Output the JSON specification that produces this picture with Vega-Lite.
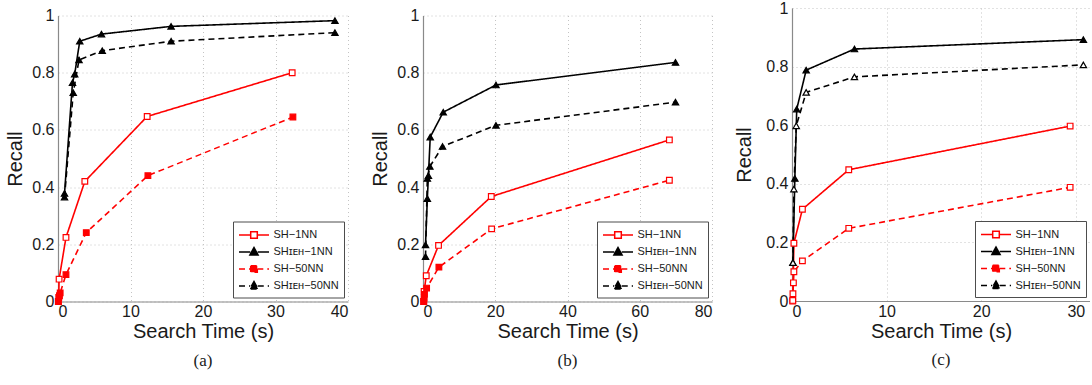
{
  "$schema": "https://vega.github.io/schema/vega-lite/v6.json",
  "padding": {"left": 5, "top": 0, "right": 0, "bottom": 0},
  "spacing": 22,
  "center": true,
  "datasets": {
    "a": [
      {"t": 0.05, "r": 0.0, "s": "SH−1NN"},
      {"t": 0.1, "r": 0.014, "s": "SH−1NN"},
      {"t": 0.15, "r": 0.078, "s": "SH−1NN"},
      {"t": 1.1, "r": 0.224, "s": "SH−1NN"},
      {"t": 3.7, "r": 0.42, "s": "SH−1NN"},
      {"t": 12.3, "r": 0.647, "s": "SH−1NN"},
      {"t": 32.3, "r": 0.8, "s": "SH−1NN"},
      {"t": 0.9, "r": 0.378, "s": "SHɪᴇʜ−1NN"},
      {"t": 2.0, "r": 0.765, "s": "SHɪᴇʜ−1NN"},
      {"t": 2.3, "r": 0.795, "s": "SHɪᴇʜ−1NN"},
      {"t": 3.0, "r": 0.91, "s": "SHɪᴇʜ−1NN"},
      {"t": 6.0, "r": 0.935, "s": "SHɪᴇʜ−1NN"},
      {"t": 15.6, "r": 0.962, "s": "SHɪᴇʜ−1NN"},
      {"t": 38.2, "r": 0.982, "s": "SHɪᴇʜ−1NN"},
      {"t": 0.05, "r": 0.0, "s": "SH−50NN"},
      {"t": 0.2, "r": 0.02, "s": "SH−50NN"},
      {"t": 0.3, "r": 0.03, "s": "SH−50NN"},
      {"t": 1.1, "r": 0.094, "s": "SH−50NN"},
      {"t": 3.9, "r": 0.241, "s": "SH−50NN"},
      {"t": 12.4, "r": 0.44, "s": "SH−50NN"},
      {"t": 32.4, "r": 0.645, "s": "SH−50NN"},
      {"t": 0.9, "r": 0.365, "s": "SHɪᴇʜ−50NN"},
      {"t": 2.1, "r": 0.73, "s": "SHɪᴇʜ−50NN"},
      {"t": 2.9, "r": 0.845, "s": "SHɪᴇʜ−50NN"},
      {"t": 6.1, "r": 0.877, "s": "SHɪᴇʜ−50NN"},
      {"t": 15.6, "r": 0.91, "s": "SHɪᴇʜ−50NN"},
      {"t": 38.2, "r": 0.94, "s": "SHɪᴇʜ−50NN"}
    ],
    "b": [
      {"t": 0.2, "r": 0.0, "s": "SH−1NN"},
      {"t": 0.3, "r": 0.035, "s": "SH−1NN"},
      {"t": 0.9, "r": 0.09, "s": "SH−1NN"},
      {"t": 4.3, "r": 0.196, "s": "SH−1NN"},
      {"t": 18.9, "r": 0.367, "s": "SH−1NN"},
      {"t": 68.2, "r": 0.565, "s": "SH−1NN"},
      {"t": 0.7, "r": 0.198, "s": "SHɪᴇʜ−1NN"},
      {"t": 1.2, "r": 0.36, "s": "SHɪᴇʜ−1NN"},
      {"t": 1.5, "r": 0.44, "s": "SHɪᴇʜ−1NN"},
      {"t": 2.0, "r": 0.575, "s": "SHɪᴇʜ−1NN"},
      {"t": 5.6, "r": 0.662, "s": "SHɪᴇʜ−1NN"},
      {"t": 20.2, "r": 0.757, "s": "SHɪᴇʜ−1NN"},
      {"t": 69.9, "r": 0.836, "s": "SHɪᴇʜ−1NN"},
      {"t": 0.2, "r": 0.0, "s": "SH−50NN"},
      {"t": 0.3, "r": 0.012, "s": "SH−50NN"},
      {"t": 0.4, "r": 0.025, "s": "SH−50NN"},
      {"t": 1.0, "r": 0.047, "s": "SH−50NN"},
      {"t": 4.4, "r": 0.12, "s": "SH−50NN"},
      {"t": 19.0, "r": 0.254, "s": "SH−50NN"},
      {"t": 68.2, "r": 0.424, "s": "SH−50NN"},
      {"t": 0.7, "r": 0.157, "s": "SHɪᴇʜ−50NN"},
      {"t": 1.2, "r": 0.43, "s": "SHɪᴇʜ−50NN"},
      {"t": 1.9, "r": 0.472, "s": "SHɪᴇʜ−50NN"},
      {"t": 5.4, "r": 0.542, "s": "SHɪᴇʜ−50NN"},
      {"t": 20.2, "r": 0.616, "s": "SHɪᴇʜ−50NN"},
      {"t": 69.9, "r": 0.697, "s": "SHɪᴇʜ−50NN"}
    ],
    "c": [
      {"t": 0.08, "r": 0.0, "s": "SH−1NN"},
      {"t": 0.1, "r": 0.025, "s": "SH−1NN"},
      {"t": 0.2, "r": 0.197, "s": "SH−1NN"},
      {"t": 1.1, "r": 0.313, "s": "SH−1NN"},
      {"t": 6.0, "r": 0.448, "s": "SH−1NN"},
      {"t": 29.4, "r": 0.597, "s": "SH−1NN"},
      {"t": 0.1, "r": 0.131, "s": "SHɪᴇʜ−1NN"},
      {"t": 0.3, "r": 0.418, "s": "SHɪᴇʜ−1NN"},
      {"t": 0.5, "r": 0.655, "s": "SHɪᴇʜ−1NN"},
      {"t": 1.5, "r": 0.788, "s": "SHɪᴇʜ−1NN"},
      {"t": 6.6, "r": 0.86, "s": "SHɪᴇʜ−1NN"},
      {"t": 30.8, "r": 0.892, "s": "SHɪᴇʜ−1NN"},
      {"t": 0.08, "r": 0.002, "s": "SH−50NN"},
      {"t": 0.15, "r": 0.062, "s": "SH−50NN"},
      {"t": 0.2, "r": 0.1, "s": "SH−50NN"},
      {"t": 1.1, "r": 0.137, "s": "SH−50NN"},
      {"t": 6.0, "r": 0.248, "s": "SH−50NN"},
      {"t": 29.4, "r": 0.388, "s": "SH−50NN"},
      {"t": 0.1, "r": 0.131, "s": "SHɪᴇʜ−50NN"},
      {"t": 0.2, "r": 0.382, "s": "SHɪᴇʜ−50NN"},
      {"t": 0.45, "r": 0.598, "s": "SHɪᴇʜ−50NN"},
      {"t": 1.5, "r": 0.712, "s": "SHɪᴇʜ−50NN"},
      {"t": 6.6, "r": 0.765, "s": "SHɪᴇʜ−50NN"},
      {"t": 30.8, "r": 0.806, "s": "SHɪᴇʜ−50NN"}
    ]
  },
  "resolve": {
    "scale": {"color": "independent", "strokeDash": "independent"},
    "legend": {"color": "independent", "strokeDash": "independent"}
  },
  "hconcat": [
    {
      "width": 290, "height": 286,
      "title": {"text": "(a)"},
      "data": {"name": "a"},
      "layer": [
        {
          "mark": {"type": "line", "strokeWidth": 1.6},
          "encoding": {
            "x": {"field": "t", "type": "quantitative", "scale": {"domain": [0, 40], "nice": false}, "axis": {"values": [0, 10, 20, 30, 40], "title": "Search Time (s)"}},
            "y": {"field": "r", "type": "quantitative", "scale": {"domain": [0, 1], "nice": false}, "axis": {"values": [0, 0.2, 0.4, 0.6, 0.8, 1], "format": ".1~f", "title": "Recall"}},
            "color": {"field": "s", "type": "nominal", "scale": {"domain": ["SH−1NN", "SHɪᴇʜ−1NN", "SH−50NN", "SHɪᴇʜ−50NN"], "range": ["#ff0000", "#000000", "#ff0000", "#000000"]},
              "legend": {"orient": "bottom-right", "offset": 4, "title": null, "symbolSize": 225, "symbolOffset": 7.5, "labelFontSize": 11, "padding": 5, "rowPadding": 2, "labelOffset": 11, "fillColor": "white", "strokeColor": "#4d4d4d",
                "encode": {"symbols": {"update": {
                  "shape": {"signal": "indexof(datum.value,'ɪᴇʜ')>=0 ? 'M-2,0L-0.5,0M0.5,0L2,0M0,-0.6L0.55,0.4L-0.55,0.4Z' : 'M-2,0L-0.44,0M0.44,0L2,0M-0.44,-0.44L0.44,-0.44L0.44,0.44L-0.44,0.44Z'"},
                  "fill": {"signal": "datum.value=='SH−1NN' ? 'white' : (indexof(datum.value,'ɪᴇʜ')>=0 ? 'black' : 'red')"},
                  "stroke": {"signal": "indexof(datum.value,'ɪᴇʜ')>=0 ? 'black' : 'red'"},
                  "strokeDash": {"signal": "indexof(datum.value,'50')>=0 ? [5,3] : [1,0]"},
                  "size": {"value": 225}, "strokeWidth": {"value": 1.5}, "opacity": {"value": 1}, "fillOpacity": {"value": 1}}}}}},
            "strokeDash": {"field": "s", "type": "nominal", "scale": {"domain": ["SH−1NN", "SHɪᴇʜ−1NN", "SH−50NN", "SHɪᴇʜ−50NN"], "range": [[1, 0], [1, 0], [6, 4], [6, 4]]}, "legend": null}
          }
        },
        {
          "transform": [{"filter": "indexof(datum.s,'ɪᴇʜ')<0"}],
          "mark": {"type": "point", "shape": "square", "filled": false, "size": 32, "strokeWidth": 1.2, "opacity": 1},
          "encoding": {
            "x": {"field": "t", "type": "quantitative"},
            "y": {"field": "r", "type": "quantitative"},
            "color": {"field": "s", "type": "nominal", "legend": null},
            "fill": {"condition": {"test": "datum.s=='SH−50NN'", "value": "#ff0000"}, "value": "#ffffff"}
          }
        },
        {
          "transform": [{"filter": "indexof(datum.s,'ɪᴇʜ')>=0"}],
          "mark": {"type": "point", "shape": "triangle-up", "filled": false, "size": 40, "strokeWidth": 1.2, "opacity": 1},
          "encoding": {
            "x": {"field": "t", "type": "quantitative"},
            "y": {"field": "r", "type": "quantitative"},
            "color": {"field": "s", "type": "nominal", "legend": null},
            "fill": {"value": "#000000"}
          }
        }
      ]
    },
    {
      "width": 289, "height": 286,
      "title": {"text": "(b)"},
      "data": {"name": "b"},
      "layer": [
        {
          "mark": {"type": "line", "strokeWidth": 1.6},
          "encoding": {
            "x": {"field": "t", "type": "quantitative", "scale": {"domain": [0, 80], "nice": false}, "axis": {"values": [0, 20, 40, 60, 80], "title": "Search Time (s)"}},
            "y": {"field": "r", "type": "quantitative", "scale": {"domain": [0, 1], "nice": false}, "axis": {"values": [0, 0.2, 0.4, 0.6, 0.8, 1], "format": ".1~f", "title": "Recall"}},
            "color": {"field": "s", "type": "nominal", "scale": {"domain": ["SH−1NN", "SHɪᴇʜ−1NN", "SH−50NN", "SHɪᴇʜ−50NN"], "range": ["#ff0000", "#000000", "#ff0000", "#000000"]},
              "legend": {"orient": "bottom-right", "offset": 4, "title": null, "symbolSize": 225, "symbolOffset": 7.5, "labelFontSize": 11, "padding": 5, "rowPadding": 2, "labelOffset": 11, "fillColor": "white", "strokeColor": "#4d4d4d",
                "encode": {"symbols": {"update": {
                  "shape": {"signal": "indexof(datum.value,'ɪᴇʜ')>=0 ? 'M-2,0L-0.5,0M0.5,0L2,0M0,-0.6L0.55,0.4L-0.55,0.4Z' : 'M-2,0L-0.44,0M0.44,0L2,0M-0.44,-0.44L0.44,-0.44L0.44,0.44L-0.44,0.44Z'"},
                  "fill": {"signal": "datum.value=='SH−1NN' ? 'white' : (indexof(datum.value,'ɪᴇʜ')>=0 ? 'black' : 'red')"},
                  "stroke": {"signal": "indexof(datum.value,'ɪᴇʜ')>=0 ? 'black' : 'red'"},
                  "strokeDash": {"signal": "indexof(datum.value,'50')>=0 ? [5,3] : [1,0]"},
                  "size": {"value": 225}, "strokeWidth": {"value": 1.5}, "opacity": {"value": 1}, "fillOpacity": {"value": 1}}}}}},
            "strokeDash": {"field": "s", "type": "nominal", "scale": {"domain": ["SH−1NN", "SHɪᴇʜ−1NN", "SH−50NN", "SHɪᴇʜ−50NN"], "range": [[1, 0], [1, 0], [6, 4], [6, 4]]}, "legend": null}
          }
        },
        {
          "transform": [{"filter": "indexof(datum.s,'ɪᴇʜ')<0"}],
          "mark": {"type": "point", "shape": "square", "filled": false, "size": 32, "strokeWidth": 1.2, "opacity": 1},
          "encoding": {
            "x": {"field": "t", "type": "quantitative"},
            "y": {"field": "r", "type": "quantitative"},
            "color": {"field": "s", "type": "nominal", "legend": null},
            "fill": {"condition": {"test": "datum.s=='SH−50NN' && datum.t<10", "value": "#ff0000"}, "value": "#ffffff"}
          }
        },
        {
          "transform": [{"filter": "indexof(datum.s,'ɪᴇʜ')>=0"}],
          "mark": {"type": "point", "shape": "triangle-up", "filled": false, "size": 40, "strokeWidth": 1.2, "opacity": 1},
          "encoding": {
            "x": {"field": "t", "type": "quantitative"},
            "y": {"field": "r", "type": "quantitative"},
            "color": {"field": "s", "type": "nominal", "legend": null},
            "fill": {"value": "#000000"}
          }
        }
      ]
    },
    {
      "width": 298, "height": 293,
      "title": {"text": "(c)", "subtitle": " ", "subtitleFontSize": 6, "subtitlePadding": 1},
      "data": {"name": "c"},
      "layer": [
        {
          "mark": {"type": "line", "strokeWidth": 1.6},
          "encoding": {
            "x": {"field": "t", "type": "quantitative", "scale": {"domain": [0, 31.5], "nice": false}, "axis": {"values": [0, 10, 20, 30], "title": "Search Time (s)"}},
            "y": {"field": "r", "type": "quantitative", "scale": {"domain": [0, 1], "nice": false}, "axis": {"values": [0, 0.2, 0.4, 0.6, 0.8, 1], "format": ".1~f", "title": "Recall", "titlePadding": 11}},
            "color": {"field": "s", "type": "nominal", "scale": {"domain": ["SH−1NN", "SHɪᴇʜ−1NN", "SH−50NN", "SHɪᴇʜ−50NN"], "range": ["#ff0000", "#000000", "#ff0000", "#000000"]},
              "legend": {"orient": "bottom-right", "offset": 4, "title": null, "symbolSize": 225, "symbolOffset": 7.5, "labelFontSize": 11, "padding": 5, "rowPadding": 2, "labelOffset": 11, "fillColor": "white", "strokeColor": "#4d4d4d",
                "encode": {"symbols": {"update": {
                  "shape": {"signal": "indexof(datum.value,'ɪᴇʜ')>=0 ? 'M-2,0L-0.5,0M0.5,0L2,0M0,-0.6L0.55,0.4L-0.55,0.4Z' : 'M-2,0L-0.44,0M0.44,0L2,0M-0.44,-0.44L0.44,-0.44L0.44,0.44L-0.44,0.44Z'"},
                  "fill": {"signal": "datum.value=='SH−1NN' ? 'white' : (indexof(datum.value,'ɪᴇʜ')>=0 ? 'black' : 'red')"},
                  "stroke": {"signal": "indexof(datum.value,'ɪᴇʜ')>=0 ? 'black' : 'red'"},
                  "strokeDash": {"signal": "indexof(datum.value,'50')>=0 ? [5,3] : [1,0]"},
                  "size": {"value": 225}, "strokeWidth": {"value": 1.5}, "opacity": {"value": 1}, "fillOpacity": {"value": 1}}}}}},
            "strokeDash": {"field": "s", "type": "nominal", "scale": {"domain": ["SH−1NN", "SHɪᴇʜ−1NN", "SH−50NN", "SHɪᴇʜ−50NN"], "range": [[1, 0], [1, 0], [6, 4], [6, 4]]}, "legend": null}
          }
        },
        {
          "transform": [{"filter": "indexof(datum.s,'ɪᴇʜ')<0"}],
          "mark": {"type": "point", "shape": "square", "filled": false, "size": 32, "strokeWidth": 1.2, "opacity": 1},
          "encoding": {
            "x": {"field": "t", "type": "quantitative"},
            "y": {"field": "r", "type": "quantitative"},
            "color": {"field": "s", "type": "nominal", "legend": null},
            "fill": {"value": "#ffffff"}
          }
        },
        {
          "transform": [{"filter": "indexof(datum.s,'ɪᴇʜ')>=0"}],
          "mark": {"type": "point", "shape": "triangle-up", "filled": false, "size": 40, "strokeWidth": 1.2, "opacity": 1},
          "encoding": {
            "x": {"field": "t", "type": "quantitative"},
            "y": {"field": "r", "type": "quantitative"},
            "color": {"field": "s", "type": "nominal", "legend": null},
            "fill": {"condition": {"test": "datum.s=='SHɪᴇʜ−1NN'", "value": "#000000"}, "value": "#ffffff"}
          }
        }
      ]
    }
  ],
  "config": {
    "font": "Liberation Sans",
    "view": {"stroke": null},
    "axis": {"labelFontSize": 16, "titleFontSize": 20, "titleFontWeight": "normal", "labelColor": "#1a1a1a", "titleColor": "#1a1a1a", "domainColor": "#8a8a8a", "domainWidth": 1.2, "gridColor": "#c4c4c4", "gridDash": [1, 3], "ticks": false, "tickSize": 0, "labelPadding": 4},
    "axisX": {"titlePadding": 2, "labelPadding": 2},
    "axisY": {"titlePadding": 6},
    "legend": {"labelFont": "Liberation Sans", "labelColor": "#1a1a1a"},
    "title": {"font": "Liberation Serif", "fontSize": 17, "fontWeight": "normal", "orient": "bottom", "offset": 11, "color": "#1a1a1a", "subtitleFont": "Liberation Serif"}
  }
}
